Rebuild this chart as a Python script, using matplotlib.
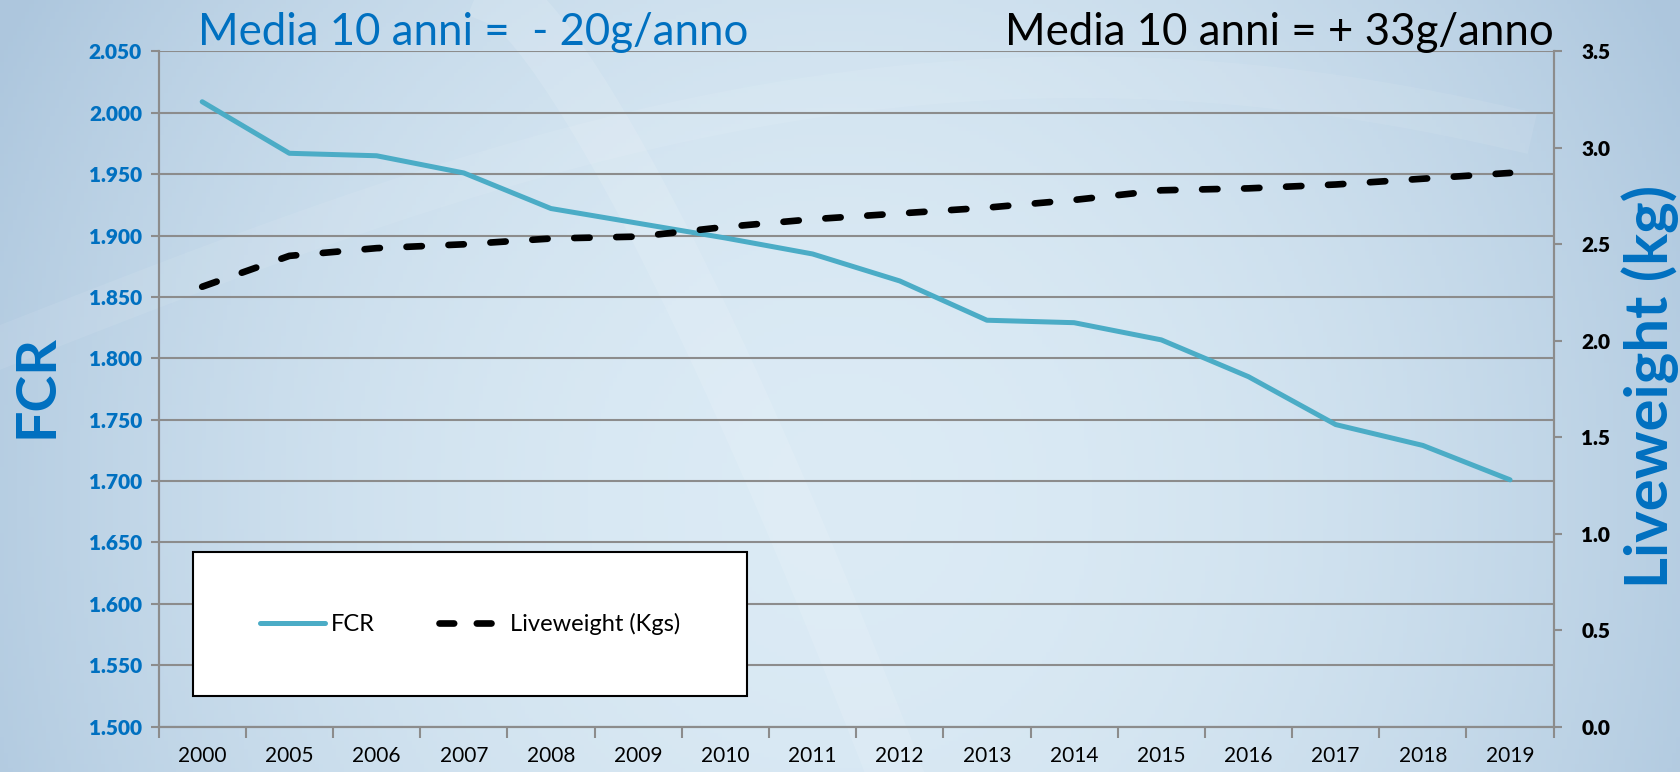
import numpy as np
import matplotlib
matplotlib.use("Agg")
import matplotlib.pyplot as plt
from matplotlib.patches import Rectangle
from matplotlib.lines import Line2D

plt.rcParams['font.family'] = ['Lato', 'DejaVu Sans']

# data
years = ['2000', '2005', '2006', '2007', '2008', '2009', '2010', '2011',
         '2012', '2013', '2014', '2015', '2016', '2017', '2018', '2019']
fcr = [2.009, 1.967, 1.965, 1.951, 1.922, 1.910, 1.898, 1.885,
       1.863, 1.831, 1.829, 1.815, 1.785, 1.746, 1.729, 1.701]
liveweight = [2.28, 2.44, 2.48, 2.50, 2.53, 2.54, 2.59, 2.63,
              2.66, 2.69, 2.73, 2.78, 2.79, 2.81, 2.84, 2.87]
fcr_ticks = [1.50, 1.55, 1.60, 1.65, 1.70, 1.75, 1.80, 1.85, 1.90, 1.95, 2.00, 2.05]
lw_ticks = [0.0, 0.5, 1.0, 1.5, 2.0, 2.5, 3.0, 3.5]

blue = '#0070C0'
teal = '#4BACC6'
grid_grey = '#8C8C8C'

fig = plt.figure(figsize=(16.8, 7.72), dpi=100)

# background gradient
bg = fig.add_axes([0, 0, 1, 1], zorder=-10)
xx, yy = np.meshgrid(np.linspace(-1, 1, 400), np.linspace(-1, 1, 200))
d = np.clip(np.abs(xx) ** 2 * 0.8 + (yy + 0.3) ** 2 * 0.15, 0, 1)
c0 = np.array([0.86, 0.92, 0.96])
c1 = np.array([0.68, 0.78, 0.87])
img = c0[None, None, :] * (1 - d[..., None]) + c1[None, None, :] * d[..., None]
bg.imshow(img, aspect='auto', extent=[0, 1, 0, 1], origin='lower')
# faint decorative swooshes
t = np.linspace(0, 1, 200)
bg.plot(0.30 + 0.25 * t, 1.0 - 1.1 * t ** 1.3, color='white', alpha=0.12, lw=40)
bg.plot(0.0 + 0.9 * t, 0.55 + 0.35 * np.sin(t * 2.2), color='white', alpha=0.08, lw=30)
bg.set_xlim(0, 1)
bg.set_ylim(0, 1)
bg.axis('off')

ax = fig.add_axes([0.0944, 0.0589, 0.9248 - 0.0944, 0.9334 - 0.0589])
ax.patch.set_alpha(0)
ax2 = ax.twinx()

x = np.arange(len(years))
l1, = ax.plot(x, fcr, color=teal, lw=3.6, solid_capstyle='round', zorder=3)
l2, = ax2.plot(x, liveweight, color='black', lw=4.8, dashes=(2.3, 4.0),
               dash_capstyle='round', zorder=3)

ax.set_xlim(-0.5, len(years) - 0.5)
ax.set_ylim(1.5, 2.05)
ax2.set_ylim(0, 3.5)

ax.set_yticks(fcr_ticks, ['%.3f' % v for v in fcr_ticks])
ax2.set_yticks(lw_ticks, ['%.1f' % v for v in lw_ticks])
ax.grid(axis='y', color=grid_grey, lw=1.5)
ax.set_axisbelow(True)

ax.set_xticks(x)
ax.set_xticklabels(years, fontsize=15)
ax.set_xticks(np.arange(-0.5, len(years)), minor=True)
ax.tick_params(axis='x', which='major', length=0, pad=14)
ax.tick_params(axis='x', which='minor', length=8, width=1.5, color=grid_grey)
ax.tick_params(axis='y', length=6, width=1.5, color=grid_grey, pad=6,
               labelsize=15, labelcolor=blue)
ax2.tick_params(axis='y', length=6, width=1.5, color=grid_grey, pad=14,
                labelsize=15, labelcolor='black')

for a in (ax, ax2):
    a.spines['top'].set_visible(False)
    for side in ('left', 'right', 'bottom'):
        a.spines[side].set_color(grid_grey)
        a.spines[side].set_linewidth(1.5)

fig.text(0.022, 0.50, 'FCR', rotation=90, color=blue, fontsize=40,
         fontweight='bold', ha='center', va='center')
fig.text(0.982, 0.50, 'Liveweight (kg)', rotation=90, color=blue, fontsize=43,
         fontweight='bold', ha='center', va='center')

fig.text(0.118, 0.942, 'Media 10 anni =  - 20g/anno', color=blue, fontsize=31.5,
         ha='left', va='baseline')
fig.text(0.925, 0.942, 'Media 10 anni = + 33g/anno', color='black', fontsize=31.5,
         ha='right', va='baseline')

# legend box
bx0, by0, bx1, by1 = 0.0247, 0.045, 0.4218, 0.2585
box = Rectangle((bx0, by0), bx1 - bx0, by1 - by0,
                transform=ax.transAxes, facecolor='white', edgecolor='black',
                lw=1.5, zorder=5)
ax2.add_patch(box)
h1 = Line2D([], [], color=teal, lw=3.6, solid_capstyle='round')
h2 = Line2D([], [], color='black', lw=4.8, dashes=(2.2, 3.4), dash_capstyle='round')
leg = ax2.legend([h1, h2], ['FCR', 'Liveweight (Kgs)'], loc='center',
                 bbox_to_anchor=(bx0, by0, bx1 - bx0, by1 - by0),
                 ncol=2, frameon=False, fontsize=17, handlelength=2.75,
                 columnspacing=2.75, handletextpad=0.25)
leg.set_zorder(6)

# y tick labels are bold in the original
fig.canvas.draw()
for a, side in ((ax, 'label1'), (ax2, 'label2')):
    for tick in a.yaxis.get_major_ticks():
        getattr(tick, side).set_fontweight('heavy')

fig.savefig('out.png', dpi=100)
